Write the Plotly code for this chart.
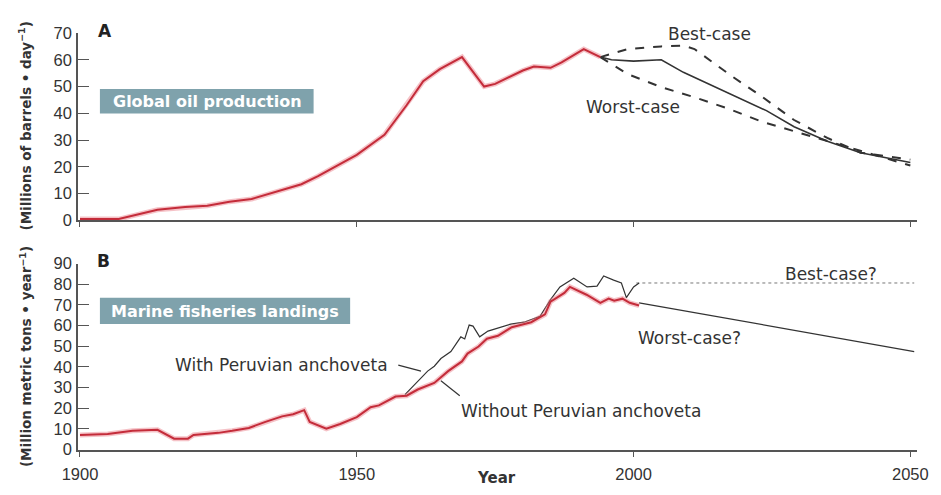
import plotly.graph_objects as go

# ---------------- Data ----------------
oil_years = [1900, 1907, 1914, 1919, 1923, 1927, 1931, 1936, 1940, 1943, 1947, 1950,
             1955, 1959, 1962, 1965, 1969, 1973, 1975, 1980, 1982, 1985, 1987, 1991, 1994]
oil_vals = [0.5, 0.5, 4, 5, 5.5, 7, 8, 11, 13.5, 16.5, 21, 24.5,
            32, 43, 52, 56.5, 61, 50, 51, 56, 57.5, 57, 59, 64, 61]

best_years = [1994, 1999, 2005, 2009, 2011, 2014, 2018, 2023, 2029, 2035, 2041, 2050]
best_vals = [61, 64, 65, 65.3, 64, 59.5, 53.5, 46.5, 37.5, 30.8, 25.3, 22.7]

mid_years = [1994, 1996, 2000, 2005, 2009, 2014, 2021, 2024, 2029, 2035, 2041, 2050]
mid_vals = [61, 60, 59.5, 60, 55.3, 50.5, 43.6, 41, 35, 29.6, 25.3, 21.6]

worst_years = [1994, 1999, 2005, 2011, 2017, 2023, 2029, 2035, 2041, 2050]
worst_vals = [61, 54.6, 49.8, 46, 41.8, 37, 33.3, 29.6, 26, 20.5]

fish_years = [1900, 1905, 1909.5, 1914, 1917, 1919.5, 1920.5, 1925, 1927.5, 1930.5, 1933.5,
              1936.5, 1938.5, 1940.5, 1941.5, 1944.5, 1947, 1950, 1952.5, 1954, 1957, 1959,
              1961, 1964, 1966.5, 1969, 1970, 1972, 1973.5, 1975.5, 1978, 1981.5, 1984, 1985,
              1987.5, 1988.5, 1991.5, 1994, 1995.5, 1996.5, 1998, 1999.3, 2001]
fish_vals = [7, 7.5, 9, 9.5, 5.2, 5.2, 7, 8, 9, 10.4, 13.3,
             16, 17, 19, 13.3, 10, 12.3, 15.6, 20.4, 21.3, 25.6, 26,
             29, 32.2, 37.9, 42.6, 46.4, 49.8, 53.6, 55, 59.2, 61.6, 65.4, 71.6,
             75.8, 78.7, 74.9, 71, 73, 72, 73, 71, 69.7]

anch_years = [1958.7, 1961, 1962.8, 1964, 1965.2, 1967, 1968.8, 1969.5, 1970.3, 1971, 1972.2,
              1973.7, 1975, 1976.5, 1977.8, 1980.2, 1983.1, 1985, 1986.7, 1989.2, 1991.6,
              1993.4, 1994.6, 1996.4, 1997.8, 1998.7, 2000, 2001]
anch_vals = [26.5, 33, 37.9, 40.3, 44, 47.4, 54.5, 53.5, 60.2, 59.7, 54.5,
             57.3, 58.3, 59.5, 60.7, 61.6, 64.5, 72.5, 78.7, 82.9, 78.7,
             79.1, 84, 82, 80.6, 73.5, 78.7, 80.6]

fish_best_years = [2000.5, 2050.7]
fish_best_vals = [80.6, 80.6]
fish_worst_years = [2001, 2050.7]
fish_worst_vals = [71, 47.4]

x_ticks = [1900, 1950, 2000, 2050]
oil_ticks = [0, 10, 20, 30, 40, 50, 60, 70]
fish_ticks = [0, 10, 20, 30, 40, 50, 60, 70, 80, 90]

# ---------------- Styles ----------------
TICKFONT = "Liberation Sans, Arial, Helvetica, sans-serif"
FONT = "DejaVu Sans, Verdana, sans-serif"
TXT = "#333333"
RED = "#c42c3a"
HALO = "rgba(232,120,130,0.45)"
DARK = "#333333"
BOX = "#7fa2ac"

L, R, T, B = 78, 19, 33, 37
W, H = 941, 495
PW, PH = W - L - R, H - T - B

def px(x, y):
    return (x - L) / PW, (H - B - y) / PH

fig = go.Figure()

def red_line(x, y, xa, ya):
    fig.add_trace(go.Scatter(x=x, y=y, mode="lines", xaxis=xa, yaxis=ya,
                             line=dict(color=HALO, width=5), hoverinfo="skip"))
    fig.add_trace(go.Scatter(x=x, y=y, mode="lines", xaxis=xa, yaxis=ya,
                             line=dict(color=RED, width=2)))

# Panel A
fig.add_trace(go.Scatter(x=best_years, y=best_vals, mode="lines", xaxis="x", yaxis="y",
                         line=dict(color=DARK, width=2, dash="dash")))
fig.add_trace(go.Scatter(x=worst_years, y=worst_vals, mode="lines", xaxis="x", yaxis="y",
                         line=dict(color=DARK, width=2, dash="dash")))
fig.add_trace(go.Scatter(x=mid_years, y=mid_vals, mode="lines", xaxis="x", yaxis="y",
                         line=dict(color=DARK, width=1.6)))
red_line(oil_years, oil_vals, "x", "y")

# Panel B
fig.add_trace(go.Scatter(x=fish_best_years, y=fish_best_vals, mode="lines", xaxis="x2", yaxis="y2",
                         line=dict(color="#777777", width=1, dash="dot")))
fig.add_trace(go.Scatter(x=fish_worst_years, y=fish_worst_vals, mode="lines", xaxis="x2", yaxis="y2",
                         line=dict(color=DARK, width=1.3)))
fig.add_trace(go.Scatter(x=anch_years, y=anch_vals, mode="lines", xaxis="x2", yaxis="y2",
                         line=dict(color=DARK, width=1.2)))
red_line(fish_years, fish_vals, "x2", "y2")

XR = [1899.64, 2051.2]
axis_common = dict(showgrid=False, zeroline=False, showline=True, linecolor="#555555",
                   linewidth=1.5, tickcolor="#555555",
                   tickfont=dict(family=TICKFONT, size=16.5, color=TXT))

fig.update_layout(
    autosize=True,
    margin=dict(l=L, r=R, t=T, b=B),
    paper_bgcolor="white", plot_bgcolor="white",
    showlegend=False,
    xaxis=dict(domain=[0, 1], range=XR, anchor="y", tickvals=x_ticks, ticks="outside",
               ticklen=5, showticklabels=False, **axis_common),
    yaxis=dict(domain=[px(0, 224)[1], 1], range=[0, 70], anchor="x", tickvals=oil_ticks,
               ticks="inside", ticklen=11, ticklabelstandoff=1, **axis_common),
    xaxis2=dict(domain=[0, 1], range=XR, anchor="y2", tickvals=x_ticks, ticks="outside",
                ticklen=5, ticklabelstandoff=3, **axis_common),
    yaxis2=dict(domain=[0, px(0, 268)[1]], range=[-0.3, 90], anchor="x2", tickvals=fish_ticks,
                ticks="inside", ticklen=11, ticklabelstandoff=1, **axis_common),
)

# Boxes with labels
fig.add_shape(type="rect", xref="x", yref="y", x0=1903.6, x1=1942.2, y0=39.9, y1=49.1,
              fillcolor=BOX, line=dict(width=0), layer="below")
fig.add_shape(type="rect", xref="x2", yref="y2", x0=1903.6, x1=1948.8, y0=60.7, y1=73.5,
              fillcolor=BOX, line=dict(width=0), layer="below")

def note(text, x, y, size=17, color=TXT, bold=False, xanchor="center", angle=0):
    t = f"<b>{text}</b>" if bold else text
    xp, yp = px(x, y)
    fig.add_annotation(text=t, x=xp, y=yp, xref="paper", yref="paper", showarrow=False,
                       xanchor=xanchor, yanchor="middle", textangle=angle,
                       font=dict(family=FONT, size=size, color=color))

note("Global oil production", 208, 102.5, size=16, color="white", bold=True)
note("Marine fisheries landings", 226, 317, size=16, color="white", bold=True)

note("A", 105, 31, size=17, color="#222222", bold=True)
note("B", 104, 265, size=17, color="#222222", bold=True)

note("Best-case", 713, 34)
note("Worst-case", 636, 108)
note("Best-case?", 835, 279)
note("Worst-case?", 693, 344)
note("With Peruvian anchoveta", 174, 371, xanchor="left")
note("Without Peruvian anchoveta", 461, 418, xanchor="left")

# leader lines
fig.add_shape(type="line", xref="x2", yref="y2", x0=1957.5, y0=40.8, x1=1961.6, y1=37.9,
              line=dict(color=DARK, width=1.2))
fig.add_shape(type="line", xref="x2", yref="y2", x0=1965.2, y0=33.2, x1=1968.6, y1=26.0,
              line=dict(color=DARK, width=1.2))

# Axis titles
note("(Millions of barrels • day<sup>−1</sup>)", 25, 128, size=13.5, bold=True, angle=-90)
note("(Million metric tons • year<sup>−1</sup>)", 25, 363, size=13.5, bold=True, angle=-90)
note("Year", 499, 487, size=15, bold=True)

post = ("document.documentElement.style.margin='0';document.body.style.margin='0';"
        "document.documentElement.style.overflow='hidden';document.body.style.overflow='hidden';"
        "Plotly.Plots.resize(document.getElementById('{plot_id}'));")
fig.write_html("out.html", config={"displayModeBar": False, "responsive": True},
               default_width="100vw", default_height="100vh", post_script=post)
